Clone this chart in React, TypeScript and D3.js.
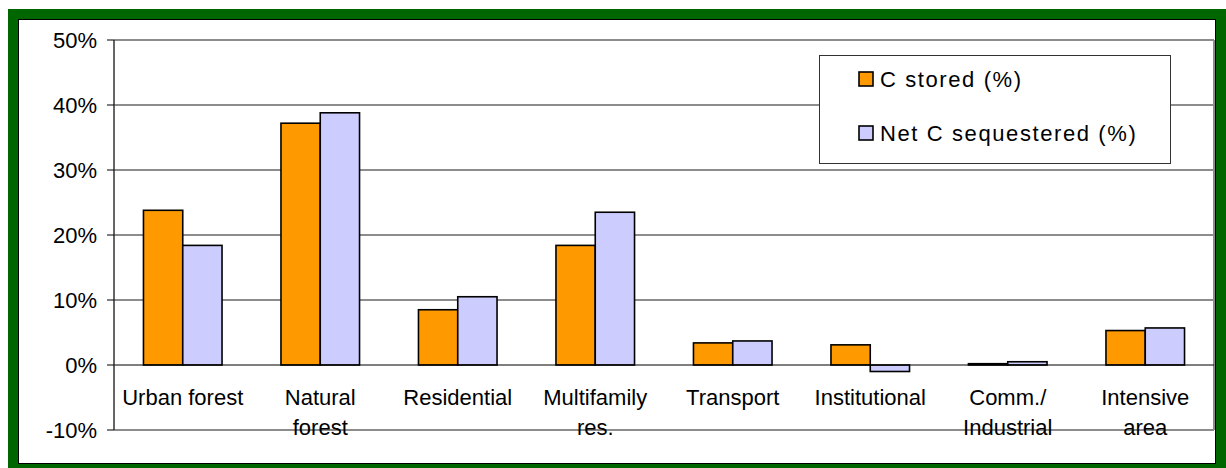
import React from "react";
import * as d3 from "d3";

// Land-use categories (multi-line axis labels)
const categories: string[][] = [
  ["Urban forest"],
  ["Natural", "forest"],
  ["Residential"],
  ["Multifamily", "res."],
  ["Transport"],
  ["Institutional"],
  ["Comm./", "Industrial"],
  ["Intensive", "area"],
];

// Series values, in percent
const cStored: number[] = [23.8, 37.2, 8.5, 18.4, 3.4, 3.1, 0.2, 5.3];
const netSequestered: number[] = [18.4, 38.8, 10.5, 23.5, 3.7, -1.0, 0.5, 5.7];

const seriesNames: string[] = ["C stored (%)", "Net C sequestered (%)"];
const seriesColors: string[] = ["#FF9900", "#CCCCFF"];

const yTicks: number[] = [-10, 0, 10, 20, 30, 40, 50];

const W = 1226;
const H = 468;
const FONT = "'Liberation Sans', Arial, sans-serif";

export default function App() {
  const plotLeft = 114;
  const plotRight = 1214;
  const plotTop = 40;
  const plotBottom = 430;

  const y = d3.scaleLinear().domain([-10, 50]).range([plotBottom, plotTop]);
  const keys = categories.map((c) => c.join(" "));
  const x = d3.scaleBand<string>().domain(keys).range([plotLeft, plotRight]).padding(0);
  const inner = d3
    .scaleBand<string>()
    .domain(seriesNames)
    .range([0, x.bandwidth()])
    .paddingInner(0)
    .paddingOuter(0.75);

  const series = [cStored, netSequestered];
  const y0 = y(0);

  return (
    <svg
      width={W}
      height={H}
      style={{ position: "absolute", left: 0, top: 0, display: "block" }}
      fontFamily={FONT}
    >
      {/* outer green frame and white panel */}
      <rect x={8} y={9} width={W - 8} height={H - 9} fill="#006600" />
      <rect x={18.5} y={19.5} width={1197} height={444} fill="#ffffff" stroke="#000" strokeWidth={1} />

      {/* gridlines */}
      {yTicks
        .filter((t) => t !== 0 && t !== -10 && t !== 50)
        .map((t) => (
          <line key={t} x1={plotLeft} x2={plotRight} y1={y(t)} y2={y(t)} stroke="#1a1a1a" strokeWidth={1} />
        ))}

      {/* plot area border */}
      <line x1={plotLeft} x2={plotRight} y1={plotTop} y2={plotTop} stroke="#8c8c8c" strokeWidth={2} />
      <line x1={plotLeft} x2={plotRight} y1={plotBottom} y2={plotBottom} stroke="#8c8c8c" strokeWidth={2} />
      <line x1={plotRight} x2={plotRight} y1={plotTop} y2={plotBottom} stroke="#8c8c8c" strokeWidth={2} />

      {/* bars */}
      {series.map((vals, si) =>
        vals.map((v, i) => {
          const bx = (x(keys[i]) as number) + (inner(seriesNames[si]) as number);
          const top = Math.min(y(v), y0);
          const h = Math.abs(y(v) - y0);
          return (
            <rect
              key={`${si}-${i}`}
              x={bx}
              y={top}
              width={inner.bandwidth()}
              height={h}
              fill={seriesColors[si]}
              stroke="#000"
              strokeWidth={1.6}
            />
          );
        })
      )}

      {/* zero line (category axis) */}
      <line x1={plotLeft} x2={plotRight} y1={y0} y2={y0} stroke="#000" strokeWidth={1.2} />

      {/* value axis */}
      <line x1={plotLeft} x2={plotLeft} y1={plotTop} y2={plotBottom} stroke="#333" strokeWidth={1.5} />
      {yTicks.map((t) => (
        <g key={t}>
          <line x1={plotLeft - 7} x2={plotLeft} y1={y(t)} y2={y(t)} stroke="#000" strokeWidth={1} />
          <text x={97} y={y(t)} dy="0.36em" textAnchor="end" fontSize={22} fill="#000">
            {`${t}%`}
          </text>
        </g>
      ))}

      {/* category labels */}
      {categories.map((lines, i) => {
        const cx = (x(keys[i]) as number) + x.bandwidth() / 2;
        return (
          <text key={i} textAnchor="middle" fontSize={22} fill="#000">
            {lines.map((ln, li) => (
              <tspan key={li} x={cx} y={y0 + 40 + li * 30}>
                {ln}
              </tspan>
            ))}
          </text>
        );
      })}

      {/* legend */}
      <g>
        <rect x={819.5} y={55.5} width={351} height={108} fill="#fff" stroke="#333" strokeWidth={1} />
        {seriesNames.map((name, si) => (
          <g key={name} transform={`translate(0, ${si * 54})`}>
            <rect x={859} y={72} width={14} height={14} fill={seriesColors[si]} stroke="#000" strokeWidth={1.6} />
            <text x={880} y={87} fontSize={22} letterSpacing={1.6} fill="#000">
              {name}
            </text>
          </g>
        ))}
      </g>
    </svg>
  );
}
